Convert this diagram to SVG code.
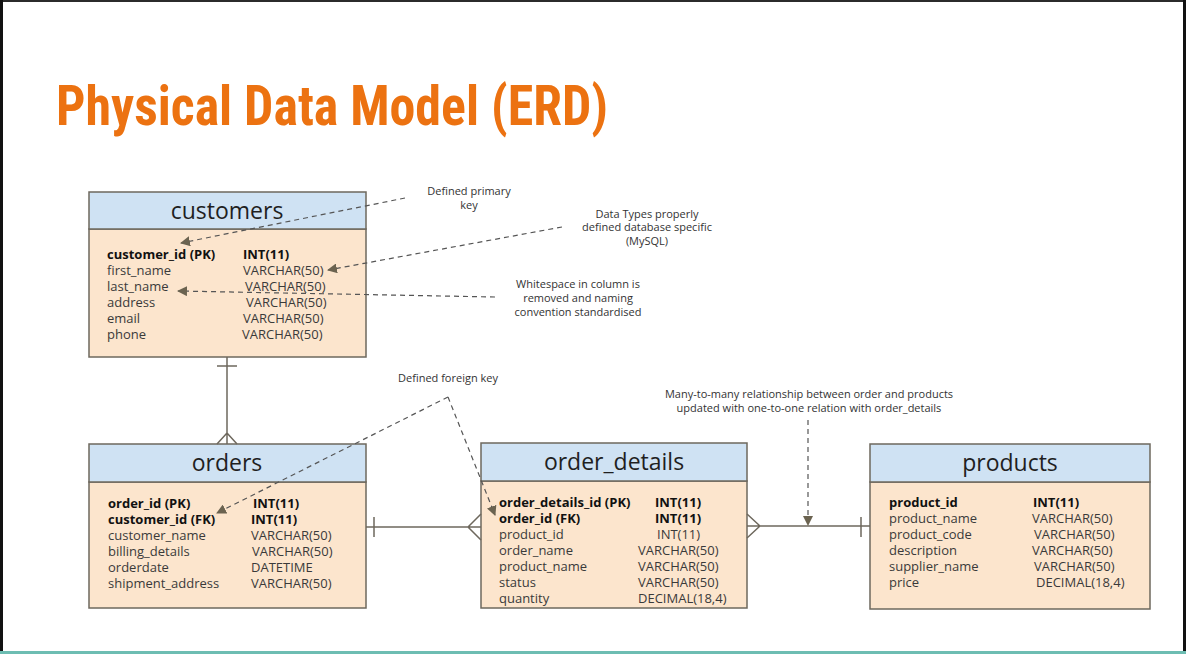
<svg xmlns="http://www.w3.org/2000/svg" width="1186" height="654" viewBox="0 0 1186 654">
<defs>
<style>
.hdr{fill:#cfe2f3;stroke:#6e685d;stroke-width:1.5}
.body{fill:#fce5cd;stroke:#6e685d;stroke-width:1.5}
.ttl{font-family:"Open Sans","DejaVu Sans",sans-serif;font-size:23px;fill:#1f1f1f;text-anchor:middle}
.row{font-family:"Open Sans","DejaVu Sans",sans-serif;font-size:13px;fill:#3a3a3a}
.b{font-weight:bold;fill:#111}
.note{font-family:"Open Sans","DejaVu Sans",sans-serif;font-size:11px;fill:#333;text-anchor:middle}
.rel{stroke:#6e685d;stroke-width:1.5;fill:none}
.dash{stroke:#555;stroke-width:1.2;fill:none;stroke-dasharray:5,4}
</style>
<marker id="ah" viewBox="0 0 10 10" refX="9" refY="5" markerWidth="10" markerHeight="10" markerUnits="userSpaceOnUse" orient="auto">
<path d="M0,0 L10,5 L0,10 z" fill="#6b6350"/>
</marker>
</defs>
<rect x="0" y="0" width="1186" height="654" fill="#ffffff"/>
<rect x="0" y="0" width="1186" height="2" fill="#2b2b2b"/>
<rect x="0" y="0" width="3" height="654" fill="#111"/>
<rect x="1183" y="0" width="3" height="654" fill="#111"/>
<rect x="0" y="651" width="1186" height="3" fill="#6dbdb2"/>

<text x="56" y="125" font-family="'Liberation Sans Narrow','Roboto Condensed','DejaVu Sans Condensed','Open Sans',sans-serif" font-weight="bold" font-size="56" fill="#ec7211" textLength="552" lengthAdjust="spacingAndGlyphs">Physical Data Model (ERD)</text>

<g id="customers">
<rect class="body" x="89" y="229" width="277" height="128"/>
<rect class="hdr" x="89" y="192" width="277" height="37"/>
<text class="ttl" x="227" y="219">customers</text>
<text class="row b" x="107" y="259">customer_id (PK)</text><text class="row b" x="243" y="259">INT(11)</text>
<text class="row" x="107" y="275">first_name</text><text class="row" x="243" y="275">VARCHAR(50)</text>
<text class="row" x="107" y="291">last_name</text><text class="row" x="245" y="291">VARCHAR(50)</text>
<text class="row" x="107" y="307">address</text><text class="row" x="246" y="307">VARCHAR(50)</text>
<text class="row" x="107" y="323">email</text><text class="row" x="243" y="323">VARCHAR(50)</text>
<text class="row" x="107" y="339">phone</text><text class="row" x="242" y="339">VARCHAR(50)</text>
</g>

<g id="orders">
<rect class="body" x="89" y="482" width="277" height="126"/>
<rect class="hdr" x="89" y="444" width="277" height="38"/>
<text class="ttl" x="227" y="471">orders</text>
<text class="row b" x="108" y="508">order_id (PK)</text><text class="row b" x="253" y="508">INT(11)</text>
<text class="row b" x="108" y="524">customer_id (FK)</text><text class="row b" x="251" y="524">INT(11)</text>
<text class="row" x="108" y="540">customer_name</text><text class="row" x="251" y="540">VARCHAR(50)</text>
<text class="row" x="108" y="556">billing_details</text><text class="row" x="252" y="556">VARCHAR(50)</text>
<text class="row" x="108" y="572">orderdate</text><text class="row" x="251" y="572">DATETIME</text>
<text class="row" x="108" y="588">shipment_address</text><text class="row" x="251" y="588">VARCHAR(50)</text>
</g>

<g id="order_details">
<rect class="body" x="481" y="481" width="266" height="127"/>
<rect class="hdr" x="481" y="443" width="266" height="38"/>
<text class="ttl" x="614" y="470">order_details</text>
<text class="row b" x="499" y="507">order_details_id (PK)</text><text class="row b" x="655" y="507">INT(11)</text>
<text class="row b" x="499" y="523">order_id (FK)</text><text class="row b" x="655" y="523">INT(11)</text>
<text class="row" x="499" y="539">product_id</text><text class="row" x="657" y="539">INT(11)</text>
<text class="row" x="499" y="555">order_name</text><text class="row" x="638" y="555">VARCHAR(50)</text>
<text class="row" x="499" y="571">product_name</text><text class="row" x="638" y="571">VARCHAR(50)</text>
<text class="row" x="499" y="587">status</text><text class="row" x="638" y="587">VARCHAR(50)</text>
<text class="row" x="499" y="603">quantity</text><text class="row" x="638" y="603">DECIMAL(18,4)</text>
</g>

<g id="products">
<rect class="body" x="870" y="482" width="280" height="127"/>
<rect class="hdr" x="870" y="444" width="280" height="38"/>
<text class="ttl" x="1010" y="471">products</text>
<text class="row b" x="889" y="507">product_id</text><text class="row b" x="1033" y="507">INT(11)</text>
<text class="row" x="889" y="523">product_name</text><text class="row" x="1032" y="523">VARCHAR(50)</text>
<text class="row" x="889" y="539">product_code</text><text class="row" x="1034" y="539">VARCHAR(50)</text>
<text class="row" x="889" y="555">description</text><text class="row" x="1032" y="555">VARCHAR(50)</text>
<text class="row" x="889" y="571">supplier_name</text><text class="row" x="1034" y="571">VARCHAR(50)</text>
<text class="row" x="889" y="587">price</text><text class="row" x="1036" y="587">DECIMAL(18,4)</text>
</g>

<g id="connectors">
<path class="rel" d="M227,357 V444 M217,366 H237 M227,433 L217,444 M227,433 L237,444"/>
<path class="rel" d="M366,527 H481 M374,517 V537 M468,527 L481,514 M468,527 L481,540"/>
<path class="rel" d="M747,526 H870 M861,517 V537 M760,526 L747,514 M760,526 L747,538"/>
<path class="dash" d="M405,198 L181,243" marker-end="url(#ah)"/>
<path class="dash" d="M562,227 L328,270" marker-end="url(#ah)"/>
<path class="dash" d="M495,297 L178,291" marker-end="url(#ah)"/>
<path class="dash" d="M448,397 L217,513" marker-end="url(#ah)"/>
<path class="dash" d="M448,397 L495,515" marker-end="url(#ah)"/>
<path class="dash" d="M808,420 L808,525" marker-end="url(#ah)"/>
</g>

<g id="notes">
<text class="note" x="469" y="195">Defined primary</text>
<text class="note" x="469" y="209">key</text>
<text class="note" x="647" y="218">Data Types properly</text>
<text class="note" x="647" y="231">defined database specific</text>
<text class="note" x="647" y="245">(MySQL)</text>
<text class="note" x="578" y="288">Whitespace in column is</text>
<text class="note" x="578" y="302">removed and naming</text>
<text class="note" x="578" y="316">convention standardised</text>
<text class="note" x="448" y="382">Defined foreign key</text>
<text class="note" x="809" y="398">Many-to-many relationship between order and products</text>
<text class="note" x="809" y="412">updated with one-to-one relation with order_details</text>
</g>
</svg>
